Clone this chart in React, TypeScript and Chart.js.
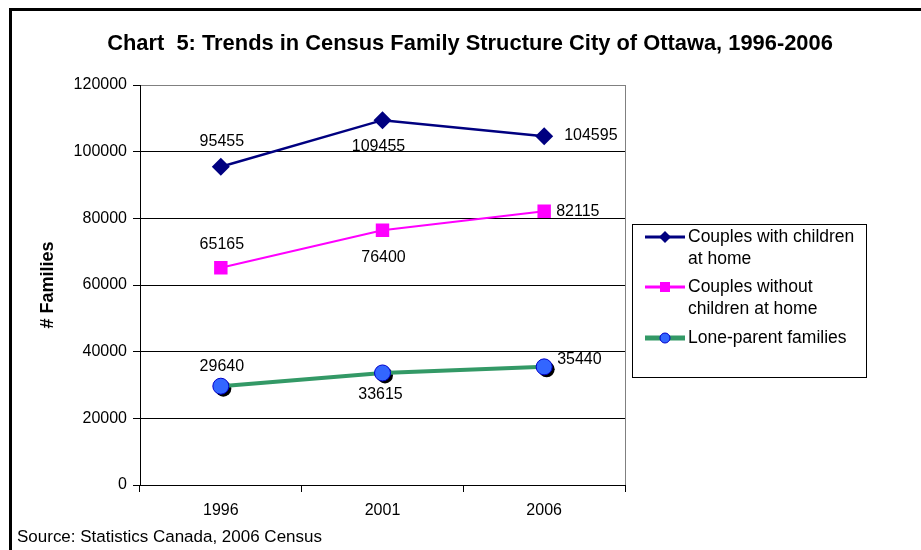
import React, { useEffect, useRef } from "react";
import { Chart, registerables } from "chart.js";

Chart.register(...registerables);

const years = ["1996", "2001", "2006"];
const couplesWithChildren = [95455, 109455, 104595];
const couplesWithoutChildren = [65165, 76400, 82115];
const loneParent = [29640, 33615, 35440];
const seriesNames = [
  ["Couples with children", "at home"],
  ["Couples without", "children at home"],
  ["Lone-parent families"],
];
const yTicks = [0, 20000, 40000, 60000, 80000, 100000, 120000];

const titleText = "Chart  5: Trends in Census Family Structure City of Ottawa, 1996-2006";
const yTitle = "# Families";
const sourceText = "Source: Statistics Canada, 2006 Census";

// label offsets [dx, dy, align] per series/point (style only)
const labelOffsets: [number, number, CanvasTextAlign][][] = [
  [[1, -25, "center"], [-4, 26, "center"], [20, -1, "left"]],
  [[1, -23, "center"], [1, 27, "center"], [12, 0, "left"]],
  [[1, -20, "center"], [-2, 22, "center"], [13, -7, "left"]],
];

const FONT = "'Liberation Sans', Arial, sans-serif";
const NARROW = "'Liberation Sans Narrow', 'Arial Narrow'";

let narrowOk: boolean | null = null;
function hasNarrow(ctx: CanvasRenderingContext2D) {
  if (narrowOk !== null) return narrowOk;
  ctx.save();
  ctx.font = `30px ${NARROW}, monospace`;
  const a = ctx.measureText("Statistics Canada").width;
  ctx.font = `30px monospace`;
  const b = ctx.measureText("Statistics Canada").width;
  ctx.restore();
  narrowOk = Math.abs(a - b) > 1;
  return narrowOk;
}

function fitFont(ctx: CanvasRenderingContext2D, text: string, weight: string, family: string, target: number) {
  ctx.font = `${weight} 20px ${family}`;
  const w = ctx.measureText(text).width;
  const size = (20 * target) / w;
  ctx.font = `${weight} ${size.toFixed(2)}px ${family}`;
}

function drawMarker(ctx: CanvasRenderingContext2D, kind: number, x: number, y: number) {
  ctx.save();
  if (kind === 0) {
    ctx.fillStyle = "#000080";
    ctx.beginPath();
    ctx.moveTo(x, y - 6);
    ctx.lineTo(x + 6, y);
    ctx.lineTo(x, y + 6);
    ctx.lineTo(x - 6, y);
    ctx.closePath();
    ctx.fill();
  } else if (kind === 1) {
    ctx.fillStyle = "#FF00FF";
    ctx.fillRect(x - 5, y - 5, 10, 10);
  } else {
    ctx.fillStyle = "#3366FF";
    ctx.strokeStyle = "#0000CC";
    ctx.lineWidth = 1;
    ctx.beginPath();
    ctx.arc(x, y, 5, 0, Math.PI * 2);
    ctx.fill();
    ctx.stroke();
  }
  ctx.restore();
}

const decorPlugin = {
  id: "decor",
  beforeDatasetsDraw(chart: any) {
    const ctx = chart.ctx as CanvasRenderingContext2D;
    const area = chart.chartArea;
    ctx.save();
    ctx.strokeStyle = "#808080";
    ctx.lineWidth = 1;
    ctx.beginPath();
    ctx.moveTo(Math.round(area.right) + 0.5, area.top);
    ctx.lineTo(Math.round(area.right) + 0.5, area.bottom);
    ctx.stroke();
    const meta = chart.getDatasetMeta(2);
    ctx.fillStyle = "#000";
    meta.data.forEach((p: any) => {
      ctx.beginPath();
      ctx.arc(p.x + 2.5, p.y + 2.5, 8, 0, Math.PI * 2);
      ctx.fill();
    });
    ctx.restore();
  },
  afterDraw(chart: any) {
    const ctx = chart.ctx as CanvasRenderingContext2D;
    const area = chart.chartArea;
    ctx.save();
    ctx.strokeStyle = "#000";
    ctx.lineWidth = 3;
    ctx.strokeRect(10.5, 9.5, 1200, 1200);

    const narrow = hasNarrow(ctx);
    const fam = narrow ? `${NARROW}, ${FONT}` : FONT;

    // title
    ctx.fillStyle = "#000";
    fitFont(ctx, titleText, "bold", fam, 726);
    ctx.textAlign = "center";
    ctx.textBaseline = "middle";
    ctx.fillText(titleText, 470, 44);

    // y title
    ctx.save();
    ctx.translate(48, (area.top + area.bottom) / 2);
    ctx.rotate(-Math.PI / 2);
    ctx.font = `bold 18px ${FONT}`;
    ctx.fillText(yTitle, 0, 0);
    ctx.restore();

    // source
    fitFont(ctx, sourceText, "normal", fam, 305);
    ctx.textAlign = "left";
    ctx.fillText(sourceText, 17, 537);

    // data labels
    ctx.font = `16px ${FONT}`;
    chart.data.datasets.forEach((ds: any, i: number) => {
      const meta = chart.getDatasetMeta(i);
      meta.data.forEach((p: any, j: number) => {
        const [dx, dy, al] = labelOffsets[i][j];
        ctx.textAlign = al;
        ctx.textBaseline = "middle";
        ctx.fillText(String(ds.data[j]), p.x + dx, p.y + dy);
      });
    });

    // legend
    const lx = 632.5, ly = 224.5, lw = 234, lh = 153;
    ctx.strokeStyle = "#000";
    ctx.lineWidth = 1;
    ctx.fillStyle = "#fff";
    ctx.fillRect(lx, ly, lw, lh);
    ctx.strokeRect(lx, ly, lw, lh);
    const rows = [237, 287, 338];
    const colors = ["#000080", "#FF00FF", "#339966"];
    const widths = [3, 3, 5];
    ctx.font = `17.5px ${FONT}`;
    ctx.textAlign = "left";
    ctx.textBaseline = "middle";
    rows.forEach((ry, i) => {
      ctx.strokeStyle = colors[i];
      ctx.lineWidth = widths[i];
      ctx.beginPath();
      ctx.moveTo(645, ry);
      ctx.lineTo(685, ry);
      ctx.stroke();
      drawMarker(ctx, i, 665, ry);
      ctx.fillStyle = "#000";
      seriesNames[i].forEach((t, k) => ctx.fillText(t, 688, ry + k * 22));
    });
    ctx.restore();
  },
};

export default function App() {
  const ref = useRef<HTMLCanvasElement | null>(null);
  useEffect(() => {
    if (!ref.current) return;
    const chart = new Chart(ref.current, {
      type: "line",
      data: {
        labels: years,
        datasets: [
          {
            label: seriesNames[0].join(" "),
            data: couplesWithChildren,
            borderColor: "#000080",
            backgroundColor: "#000080",
            borderWidth: 2.5,
            pointStyle: "rectRot",
            pointRadius: 9,
            pointBorderWidth: 0,
          },
          {
            label: seriesNames[1].join(" "),
            data: couplesWithoutChildren,
            borderColor: "#FF00FF",
            backgroundColor: "#FF00FF",
            borderWidth: 2,
            pointStyle: "rect",
            pointRadius: 9.5,
            pointBorderWidth: 0,
          },
          {
            label: seriesNames[2].join(" "),
            data: loneParent,
            borderColor: "#339966",
            backgroundColor: "#3366FF",
            borderWidth: 4,
            pointStyle: "circle",
            pointRadius: 8,
            pointBorderColor: "#0000CC",
            pointBorderWidth: 1,
          },
        ],
      },
      options: {
        animation: false,
        responsive: false,
        maintainAspectRatio: false,
        layout: { padding: { left: 0, top: 85, right: 296, bottom: 25 } },
        plugins: {
          legend: { display: false },
          title: { display: false },
          tooltip: { enabled: false },
        },
        scales: {
          x: {
            offset: true,
            grid: {
              display: true,
              offset: true,
              drawOnChartArea: false,
              drawTicks: true,
              tickLength: 7,
              color: "#000",
            },
            border: { display: true, color: "#000", width: 1 },
            ticks: { color: "#000", font: { family: FONT, size: 16 }, padding: 9 },
            afterFit: (s: any) => {
              s.height = 40;
            },
          },
          y: {
            min: 0,
            max: 120000,
            afterBuildTicks: (s: any) => {
              s.ticks = yTicks.map((v) => ({ value: v }));
            },
            grid: {
              color: (c: any) => (c.tick && c.tick.value === 120000 ? "#808080" : "#000"),
              tickColor: "#000",
              tickLength: 7,
              drawTicks: true,
            },
            border: { display: true, color: "#000", width: 1 },
            ticks: {
              color: "#000",
              font: { family: FONT, size: 16 },
              padding: 6,
              callback: (v: any) => String(v),
            },
            afterFit: (s: any) => {
              s.width = 140;
            },
          },
        },
      },
      plugins: [decorPlugin],
    });
    return () => chart.destroy();
  }, []);
  return (
    <div style={{ position: "absolute", left: 0, top: 0, width: 921, height: 550, background: "#fff" }}>
      <canvas ref={ref} width={921} height={550} style={{ display: "block" }} />
    </div>
  );
}
